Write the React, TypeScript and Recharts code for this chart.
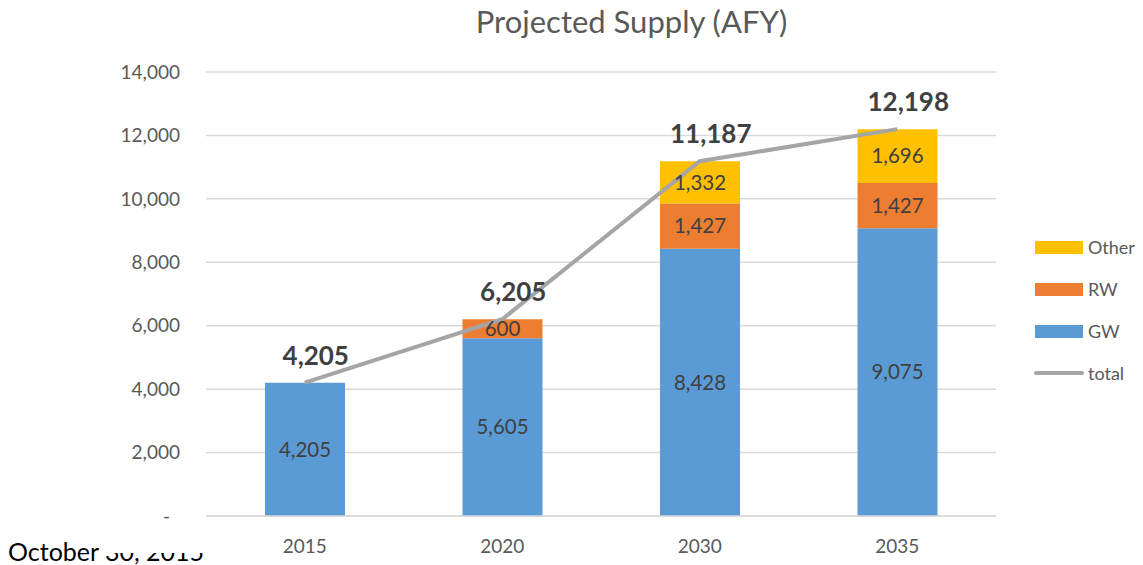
import * as React from 'react';
import { ComposedChart, Bar, Line, XAxis, YAxis, CartesianGrid, LabelList } from 'recharts';

const years = ['2015', '2020', '2030', '2035'];
const gw = [4205, 5605, 8428, 9075];
const rw = [0, 600, 1427, 1427];
const other = [0, 0, 1332, 1696];
const total = [4205, 6205, 11187, 12198];
const yTicks = [0, 2000, 4000, 6000, 8000, 10000, 12000, 14000];

const data = years.map((year, i) => ({ year, GW: gw[i], RW: rw[i], Other: other[i], total: total[i] }));

const FONT = 'Lato, "Open Sans", sans-serif';
const fmt = (v: any) => (Number(v) === 0 ? '-' : Number(v).toLocaleString('en-US'));

const YTick = (props: any) => {
  const { x, y, payload } = props;
  const zero = payload.value === 0;
  return (
    <text x={zero ? x - 10 : x} y={y} dy="0.35em" textAnchor="end" fontSize={19} fill="#595959" fontFamily={FONT}>
      {fmt(payload.value)}
    </text>
  );
};

const TotalLabel = (props: any) => {
  const { x, y, value } = props;
  return (
    <text x={x + 11} y={y - 18} textAnchor="middle" fontSize={26} fontWeight="bold" fill="#404040" fontFamily={FONT}>
      {fmt(value)}
    </text>
  );
};

const legendItems = [
  { name: 'Other', color: '#FFC000', line: false },
  { name: 'RW', color: '#ED7D31', line: false },
  { name: 'GW', color: '#5B9BD5', line: false },
  { name: 'total', color: '#A5A5A5', line: true },
];

const LegendBox = () => (
  <div style={{ position: 'absolute', left: 1034, top: 226, fontFamily: FONT, fontSize: 18, color: '#595959' }}>
    {legendItems.map((it) => (
      <div key={it.name} style={{ display: 'flex', alignItems: 'center', height: 42 }}>
        {it.line ? (
          <div style={{ width: 50, height: 4, background: it.color, borderRadius: 2, marginRight: 4 }} />
        ) : (
          <div style={{ width: 48, height: 13, background: it.color, marginLeft: 1, marginRight: 5 }} />
        )}
        <span>{it.name}</span>
      </div>
    ))}
  </div>
);

const labelStyle = { fontSize: 20.5, fill: '#404040', fontFamily: FONT };

export default function App() {
  return (
    <div style={{ position: 'absolute', left: 0, top: 0, width: 1143, height: 565, background: '#fff' }}>
      <ComposedChart width={1143} height={565} data={data} margin={{ top: 72, right: 147, left: 0, bottom: 19 }}>
        <CartesianGrid vertical={false} stroke="#D9D9D9" strokeWidth={1.5} />
        <XAxis
          dataKey="year"
          axisLine={{ stroke: '#D9D9D9', strokeWidth: 1.5 }}
          tickLine={false}
          tickSize={0}
          tickMargin={24}
          tick={{ fontSize: 19, fill: '#595959', fontFamily: FONT }}
        />
        <YAxis
          width={206}
          domain={[0, 14000]}
          ticks={yTicks}
          axisLine={false}
          tickLine={false}
          tickSize={0}
          tickMargin={26}
          tick={<YTick />}
        />
        <Bar dataKey="GW" stackId="a" fill="#5B9BD5" barSize={80} isAnimationActive={false}>
          <LabelList dataKey="GW" position="center" formatter={fmt} style={labelStyle} />
        </Bar>
        <Bar dataKey="RW" stackId="a" fill="#ED7D31" barSize={80} isAnimationActive={false}>
          <LabelList dataKey="RW" position="center" formatter={fmt} style={labelStyle} />
        </Bar>
        <Bar dataKey="Other" stackId="a" fill="#FFC000" barSize={80} isAnimationActive={false}>
          <LabelList dataKey="Other" position="center" formatter={fmt} style={labelStyle} />
        </Bar>
        <Line dataKey="total" type="linear" stroke="#A5A5A5" strokeWidth={4} dot={false} activeDot={false} isAnimationActive={false}>
          <LabelList dataKey="total" content={<TotalLabel />} />
        </Line>
      </ComposedChart>
      <div style={{ position: 'absolute', top: 2, left: 0, width: 1263, textAlign: 'center', fontFamily: FONT, fontSize: 31, color: '#595959' }}>
        Projected Supply (AFY)
      </div>
      <LegendBox />
      <div style={{ position: 'absolute', left: 8, top: 536, fontFamily: FONT, fontSize: 25, color: '#000', whiteSpace: 'nowrap' }}>
        October 30, 2015
      </div>
      <div style={{ position: 'absolute', left: 104, top: 528, width: 118, height: 25, background: '#fff' }} />
    </div>
  );
}
